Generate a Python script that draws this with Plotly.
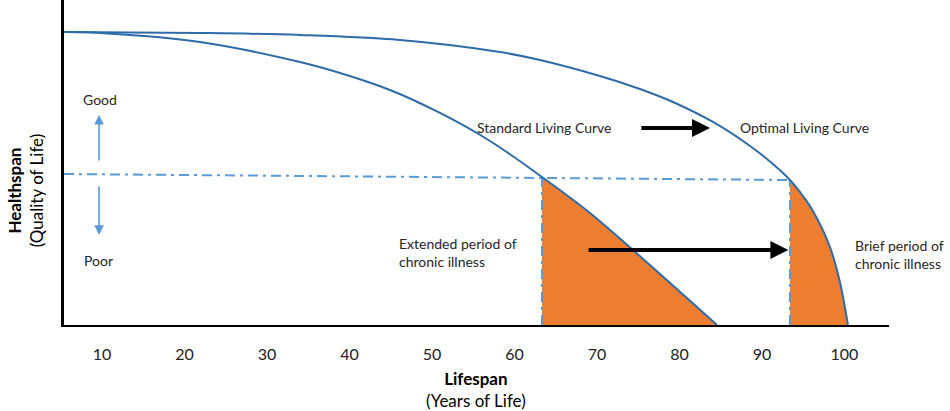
import plotly.graph_objects as go

# ---- data ----
std_x = [5.39, 9.76, 21.88, 34.0, 38.85, 44.91, 50.97, 57.03, 63.33, 69.15, 74.36, 84.55]
std_y = [99.17, 98.83, 95.79, 89.02, 85.29, 79.54, 71.76, 62.28, 50.09, 37.91, 25.38, 0.0]
opt_x = [5.39, 21.88, 34.0, 46.12, 58.24, 63.09, 70.36, 75.21, 79.21, 84.06, 88.55, 91.33,
         93.39, 94.97, 96.18, 98.24, 99.45, 100.42]
opt_y = [99.17, 98.83, 98.15, 96.46, 92.40, 89.69, 84.28, 79.88, 75.48, 68.71, 60.59, 54.49,
         49.08, 43.66, 38.59, 26.40, 14.55, 0.0]
std_onset = 63.33     # age at which chronic illness starts (standard)
opt_onset = 93.39     # age at which chronic illness starts (optimal)
threshold_x = [5.39, 93.39]
threshold_y = [51.1, 49.08]
tick_vals = [10, 20, 30, 40, 50, 60, 70, 80, 90, 100]
tick_text = ["10", "20", "30", "40", "50", "60", "70", "80", "90", "100"]

X_RANGE = [5.39, 105.4]
Y_RANGE = [0, 110]

CURVE = "#2e6ca8"
LIGHT = "#5b9bd5"
ORANGE = "#ed7d31"
FONT = "Lato"
DASHDOT = "10px,5px,3px,5px"

s_cross = std_y[std_x.index(std_onset)]
o_cross = opt_y[opt_x.index(opt_onset)]

fig = go.Figure()
# optimal: orange under the whole curve, then white cover left of its onset
fig.add_trace(go.Scatter(x=opt_x, y=opt_y, mode="lines", line=dict(width=0, shape="spline"),
                         fill="tozeroy", fillcolor=ORANGE, hoverinfo="skip"))
fig.add_trace(go.Scatter(x=[X_RANGE[0], opt_onset, opt_onset, X_RANGE[0]],
                         y=[Y_RANGE[0], Y_RANGE[0], Y_RANGE[1], Y_RANGE[1]],
                         mode="lines", line=dict(width=0), fill="toself", fillcolor="white",
                         hoverinfo="skip"))
# standard: orange under the whole curve, then white cover left of its onset
fig.add_trace(go.Scatter(x=std_x, y=std_y, mode="lines", line=dict(width=0, shape="spline"),
                         fill="tozeroy", fillcolor=ORANGE, hoverinfo="skip"))
fig.add_trace(go.Scatter(x=[X_RANGE[0], std_onset, std_onset, X_RANGE[0]],
                         y=[Y_RANGE[0], Y_RANGE[0], Y_RANGE[1], Y_RANGE[1]],
                         mode="lines", line=dict(width=0), fill="toself", fillcolor="white",
                         hoverinfo="skip"))

fig.add_trace(go.Scatter(x=threshold_x, y=threshold_y, mode="lines",
                         line=dict(color=LIGHT, width=2, dash=DASHDOT)))
fig.add_trace(go.Scatter(x=[std_onset, std_onset], y=[0, s_cross], mode="lines",
                         line=dict(color=LIGHT, width=2, dash=DASHDOT)))
fig.add_trace(go.Scatter(x=[opt_onset, opt_onset], y=[0, o_cross], mode="lines",
                         line=dict(color=LIGHT, width=2, dash=DASHDOT)))
fig.add_trace(go.Scatter(x=std_x, y=std_y, mode="lines",
                         line=dict(color=CURVE, width=2, shape="spline")))
fig.add_trace(go.Scatter(x=opt_x, y=opt_y, mode="lines",
                         line=dict(color=CURVE, width=2, shape="spline")))

txt = dict(family=FONT, size=14, color="#262626")
ann = []
ann.append(dict(x=9.76, y=76.2, text="Good", showarrow=False, font=txt, xref="x", yref="y"))
ann.append(dict(x=9.6, y=22.0, text="Poor", showarrow=False, font=txt, xref="x", yref="y"))
ann.append(dict(x=63.6, y=66.7, text="Standard Living Curve", showarrow=False, font=txt))
ann.append(dict(x=95.2, y=67.0, text="Optimal Living Curve", showarrow=False, font=txt))
ann.append(dict(x=45.8, y=24.4, text="Extended period of<br>chronic illness", showarrow=False,
                font=txt, xanchor="left", align="left"))
ann.append(dict(x=101.0, y=24.0, text="Brief period of<br>chronic illness", showarrow=False,
                font=txt, xanchor="left", align="left"))
# blue good/poor arrows
ann.append(dict(x=9.64, y=71.1, ax=9.64, ay=55.2, xref="x", yref="y", axref="x", ayref="y",
                text="", showarrow=True, arrowhead=2, arrowsize=1.2, arrowwidth=1.6, arrowcolor=LIGHT))
ann.append(dict(x=9.64, y=30.5, ax=9.64, ay=47.4, xref="x", yref="y", axref="x", ayref="y",
                text="", showarrow=True, arrowhead=2, arrowsize=1.2, arrowwidth=1.6, arrowcolor=LIGHT))
# black arrows
ann.append(dict(x=83.7, y=66.7, ax=75.2, ay=66.7, xref="x", yref="y", axref="x", ayref="y",
                text="", showarrow=True, arrowhead=2, arrowsize=0.9, arrowwidth=4, arrowcolor="black"))
ann.append(dict(x=93.2, y=25.4, ax=68.8, ay=25.4, xref="x", yref="y", axref="x", ayref="y",
                text="", showarrow=True, arrowhead=2, arrowsize=0.9, arrowwidth=4, arrowcolor="black"))
# axis titles
ann.append(dict(x=-0.047, y=0.415, xref="paper", yref="paper", textangle=-90,
                text="<b>Healthspan</b><br>(Quality of Life)", showarrow=False,
                font=dict(family=FONT, size=17, color="black"), xanchor="center", yanchor="middle"))
ann.append(dict(x=0.499, y=-0.197, xref="paper", yref="paper",
                text="<b>Lifespan</b><br>(Years of Life)", showarrow=False,
                font=dict(family=FONT, size=17, color="black"), xanchor="center", yanchor="middle"))

fig.update_layout(
    width=950, height=411,
    margin=dict(l=64, r=61, t=0, b=86),
    paper_bgcolor="white", plot_bgcolor="white",
    showlegend=False,
    annotations=ann,
    xaxis=dict(range=X_RANGE, showgrid=False, zeroline=False, showline=True,
               linecolor="black", linewidth=2, tickmode="array", tickvals=tick_vals,
               ticktext=tick_text, ticks="", ticklabelstandoff=14,
               tickfont=dict(family=FONT, size=16, color="#222")),
    yaxis=dict(range=Y_RANGE, showgrid=False, zeroline=False, showline=True,
               linecolor="black", linewidth=2.5, showticklabels=False, ticks=""),
)
fig.write_html("out.html", config={"displayModeBar": False},
               post_script="document.body.style.margin='0';document.body.style.overflow='hidden';")
